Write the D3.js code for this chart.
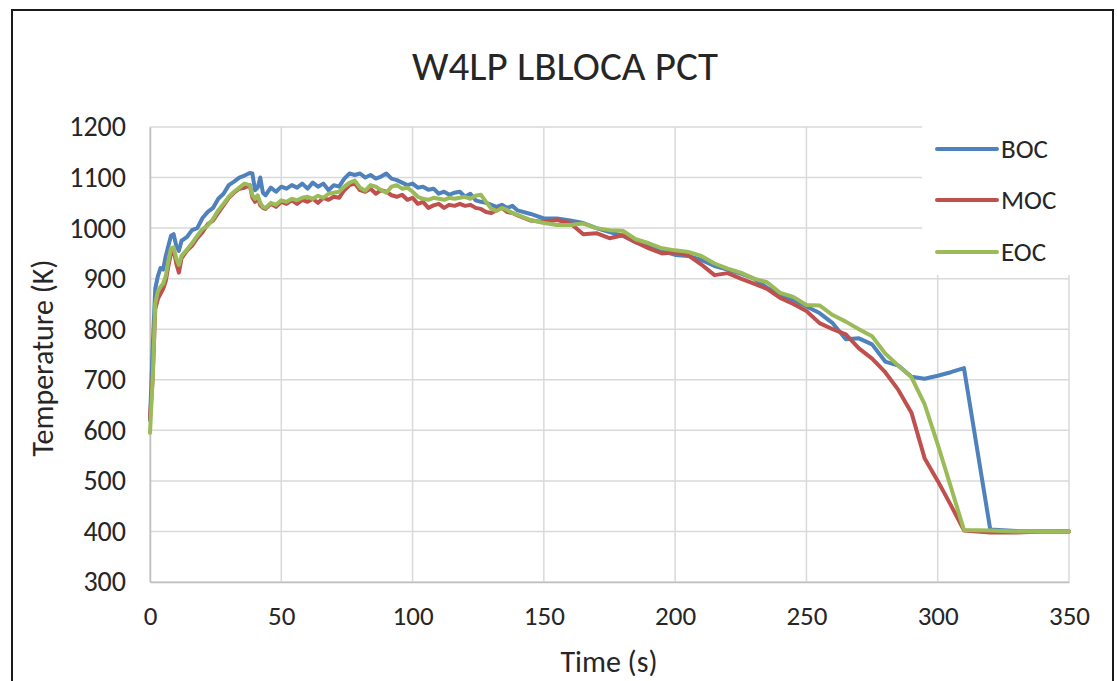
<!DOCTYPE html>
<html>
<head>
<meta charset="utf-8">
<script src="https://cdn.jsdelivr.net/npm/d3@7"></script>
<style>
  html, body { margin: 0; padding: 0; background: #fff; }
  svg { display: block; }
  text { font-family: Carlito, Calibri, "Open Sans", "Liberation Sans", sans-serif; fill: #262626; }
</style>
</head>
<body>
<svg id="chart" width="1117" height="681"></svg>
<script>
// Time points (s) shared by all three burnup cases
const time = [
  0, 1, 2, 3, 4, 5, 6, 7, 8, 9, 10, 11, 12, 14, 16, 18, 20, 22, 24, 26, 28, 30, 32, 34, 36, 38,
  39, 40, 41, 42, 43, 44, 46, 48, 50, 52, 54, 56, 58, 60, 62, 64, 66, 68, 70, 72, 74, 76, 78, 80,
  82, 84, 86, 88, 90, 92, 94, 96, 98, 100, 102, 104, 106, 108, 110, 112, 114, 116, 118, 120,
  122, 124, 126, 128, 130, 132, 134, 136, 138, 140,
  145, 150, 155, 160, 165, 170, 175, 180, 185, 190, 195, 200, 205, 210, 215, 220, 225, 230,
  235, 240, 245, 250, 255, 260, 265, 270, 275, 280, 285, 290, 295, 300, 305, 310,
  320, 330, 340, 350
];

// Peak cladding temperature (K), beginning of cycle
const boc = [
  620, 760, 880, 905, 921, 918, 945, 965, 985, 988, 965, 955, 975, 982, 996, 1000, 1020, 1032, 1040, 1058, 1068, 1085, 1092, 1100, 1104, 1109,
  1108, 1075, 1080, 1100, 1070, 1065, 1080, 1072, 1082, 1078, 1085, 1080, 1088, 1078, 1090, 1082, 1088, 1075, 1085, 1082, 1098, 1108, 1105, 1108,
  1100, 1105, 1098, 1102, 1108, 1098, 1095, 1090, 1085, 1088, 1080, 1082, 1076, 1078, 1068, 1072, 1066, 1070, 1072, 1062,
  1068, 1055, 1052, 1050, 1046, 1042, 1046, 1040, 1044, 1035,
  1028, 1019, 1019, 1015, 1010, 1000, 992, 985, 972, 965, 955, 947, 945, 937, 925, 918, 910, 900,
  882, 868, 858, 845, 832, 812, 780, 782, 770, 736, 728, 706, 702, 708, 715, 723,
  404, 401, 400, 400
];

// Peak cladding temperature (K), middle of cycle
const moc = [
  625, 700, 840, 860, 870, 880, 895, 925, 950, 958, 930, 912, 940, 955, 965, 980, 992, 1008, 1015, 1030, 1045, 1060, 1070, 1078, 1080, 1085,
  1060, 1052, 1062, 1045, 1040, 1038, 1048, 1042, 1052, 1048, 1055, 1048, 1056, 1052, 1058, 1050, 1060, 1056, 1062, 1060, 1075, 1085, 1088, 1075,
  1072, 1078, 1068, 1075, 1072, 1065, 1062, 1066, 1056, 1060, 1048, 1052, 1040, 1045, 1048, 1040, 1046, 1044, 1048, 1044,
  1046, 1040, 1038, 1032, 1030, 1036, 1040, 1032, 1030, 1025,
  1015, 1012, 1016, 1010, 988, 990, 980, 986, 972, 960, 950, 952, 946, 928, 907, 911, 900, 890,
  880, 862, 850, 836, 812, 800, 790, 762, 742, 715, 680, 635, 545, 500, 452, 402,
  398, 398, 400, 400
];

// Peak cladding temperature (K), end of cycle
const eoc = [
  595, 700, 850, 875, 884, 890, 905, 935, 960, 962, 940, 927, 945, 957, 970, 985, 998, 1005, 1018, 1035, 1048, 1062, 1072, 1080, 1088, 1085,
  1065, 1058, 1065, 1050, 1042, 1040, 1050, 1046, 1055, 1052, 1058, 1055, 1060, 1062, 1058, 1064, 1060, 1068, 1070, 1072, 1082, 1090, 1094, 1080,
  1074, 1085, 1082, 1075, 1070, 1082, 1085, 1078, 1080, 1072, 1062, 1058, 1056, 1060, 1058, 1056, 1060, 1058, 1060, 1062,
  1058, 1064, 1066, 1052, 1038, 1034, 1040, 1036, 1030, 1026,
  1016, 1010, 1006, 1006, 1009, 1000, 996, 995, 978, 970, 960, 956, 953, 945, 930, 920, 912, 900,
  893, 872, 864, 848, 847, 828, 815, 800, 786, 752, 728, 705, 652, 572, 488, 403,
  402, 400, 400, 400
];

const seriesNames = ["BOC", "MOC", "EOC"];
const seriesColors = ["#4F81BD", "#C0504D", "#9BBB59"];
const xTicks = [0, 50, 100, 150, 200, 250, 300, 350];
const yTicks = [300, 400, 500, 600, 700, 800, 900, 1000, 1100, 1200];

const svg = d3.select("#chart");
const plot = { left: 150, right: 1069, top: 127, bottom: 582 };

// Outer chart frame
svg.append("rect")
  .attr("x", 12).attr("y", 10)
  .attr("width", 1101).attr("height", 690)
  .attr("fill", "#fff").attr("stroke", "#1a1a1a").attr("stroke-width", 2);

const x = d3.scaleLinear().domain([0, 350]).range([plot.left, plot.right]);
const y = d3.scaleLinear().domain([300, 1200]).range([plot.bottom, plot.top]);

// Gridlines
const grid = svg.append("g");
grid.selectAll("line.h").data(yTicks).join("line")
  .attr("x1", plot.left).attr("x2", plot.right)
  .attr("y1", d => y(d)).attr("y2", d => y(d))
  .attr("stroke", "#D9D9D9").attr("stroke-width", 1.5);
grid.selectAll("line.v").data(xTicks).join("line")
  .attr("x1", d => x(d)).attr("x2", d => x(d))
  .attr("y1", plot.top).attr("y2", plot.bottom)
  .attr("stroke", "#D9D9D9").attr("stroke-width", 1.5);

// Axes (labels only; axis lines are light gray)
const xAxis = svg.append("g")
  .attr("transform", `translate(0,${plot.bottom})`)
  .call(d3.axisBottom(x).tickValues(xTicks).tickSize(0).tickPadding(24).tickFormat(d3.format("d")));
xAxis.select(".domain").attr("stroke", "#BFBFBF").attr("stroke-width", 1.5);
xAxis.selectAll("text").style("font-size", "27px").attr("fill", "#262626");

const yAxis = svg.append("g")
  .attr("transform", `translate(${plot.left},0)`)
  .call(d3.axisLeft(y).tickValues(yTicks).tickSize(0).tickPadding(24).tickFormat(d3.format("d")));
yAxis.select(".domain").attr("stroke", "#BFBFBF").attr("stroke-width", 1.5);
yAxis.selectAll("text").style("font-size", "28px").attr("fill", "#262626");

// Series lines
const allSeries = [boc, moc, eoc];
const line = d3.line().x((d, i) => x(time[i])).y(d => y(d));
allSeries.forEach((vals, k) => {
  svg.append("path")
    .datum(vals)
    .attr("d", line)
    .attr("fill", "none")
    .attr("stroke", seriesColors[k])
    .attr("stroke-width", 4)
    .attr("stroke-linejoin", "round")
    .attr("stroke-linecap", "round");
});

// Legend panel
const legend = svg.append("g");
legend.append("rect")
  .attr("x", 922).attr("y", 120).attr("width", 150).attr("height", 155)
  .attr("fill", "#fff");
const legendY = [149, 200, 252];
seriesNames.forEach((name, k) => {
  legend.append("line")
    .attr("x1", 937).attr("x2", 997)
    .attr("y1", legendY[k]).attr("y2", legendY[k])
    .attr("stroke", seriesColors[k]).attr("stroke-width", 4)
    .attr("stroke-linecap", "round");
  legend.append("text")
    .attr("x", 1001).attr("y", legendY[k])
    .attr("dy", "0.35em")
    .style("font-size", "27px")
    .text(name);
});

// Title
svg.append("text")
  .attr("x", 565).attr("y", 66)
  .attr("text-anchor", "middle").attr("dy", "0.35em")
  .style("font-size", "41px")
  .text("W4LP LBLOCA PCT");

// Axis titles
svg.append("text")
  .attr("x", 609).attr("y", 661)
  .attr("text-anchor", "middle").attr("dy", "0.35em")
  .style("font-size", "30px")
  .text("Time (s)");

svg.append("text")
  .attr("transform", "translate(42,358) rotate(-90)")
  .attr("text-anchor", "middle").attr("dy", "0.35em")
  .style("font-size", "30px")
  .text("Temperature (K)");
</script>
</body>
</html>
